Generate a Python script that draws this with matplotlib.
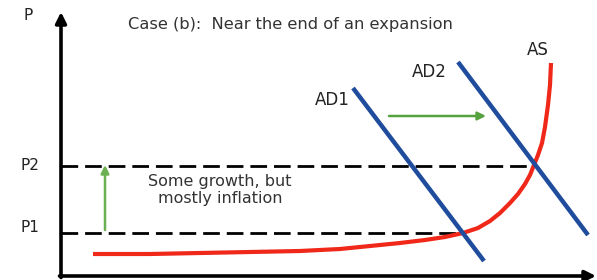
import matplotlib.pyplot as plt

# Diagram coordinates (pixel-like units, y grows downward)
origin = (61, 276)
y_axis_top = 12
x_axis_end = 596

p_labels = ['P1', 'P2']
p_levels = [233, 166]
p_line_ends = [463, 533]
p_label_y = [227, 165]

# AS curve points
as_x = [93, 150, 200, 250, 300, 340, 370, 400, 425, 445, 463, 478, 490, 500,
        510, 518, 525, 530, 534, 538, 542, 545, 548, 550, 551]
as_y = [254, 254, 253, 252, 251, 249, 246, 243, 240, 237, 233, 228, 221, 213,
        203, 194, 184, 175, 165, 155, 143, 127, 105, 85, 63]

# AD lines (start, end)
ad1_x = [353, 484]
ad1_y = [88, 261]
ad2_x = [458, 588]
ad2_y = [62, 235]

red = '#f0281a'
blue = '#1f4c9c'
green = '#55a23f'

plt.rcParams['font.family'] = ['DejaVu Sans']

fig = plt.figure(figsize=(5.97, 2.8), dpi=100)
ax = fig.add_axes([0, 0, 1, 1])
ax.set_xlim(0, 597)
ax.set_ylim(280, 0)
ax.axis('off')

# axes with arrows
ax.annotate('', xy=(origin[0], y_axis_top), xytext=(origin[0], origin[1] + 1.5),
            arrowprops=dict(arrowstyle='-|>', color='black', lw=2.6,
                            mutation_scale=16, shrinkA=0, shrinkB=0))
ax.annotate('', xy=(x_axis_end, origin[1]), xytext=(origin[0] - 1.5, origin[1]),
            arrowprops=dict(arrowstyle='-|>', color='black', lw=2.6,
                            mutation_scale=16, shrinkA=0, shrinkB=0))
ax.text(28, 16, 'P', fontsize=11, ha='center', va='center', color='#222222')

ax.text(128, 24, 'Case (b):  Near the end of an expansion', fontsize=11.7,
        ha='left', va='center', color='#333333')

# price levels
for lab, lvl, xe, ly in zip(p_labels, p_levels, p_line_ends, p_label_y):
    ax.plot([origin[0], xe], [lvl, lvl], color='black', lw=2,
            dashes=(6, 2.5), zorder=2)
    ax.text(30, ly, lab, fontsize=11, ha='center', va='center', color='#222222')

ax.text(220, 190, 'Some growth, but\nmostly inflation', fontsize=11.5,
        ha='center', va='center', linespacing=1.1, color='#333333')

# curves
ax.plot(as_x, as_y, color=red, lw=3, solid_joinstyle='round',
        solid_capstyle='butt', zorder=3)
ax.plot(ad1_x, ad1_y, color=blue, lw=3.2, solid_capstyle='butt', zorder=4)
ax.plot(ad2_x, ad2_y, color=blue, lw=3.2, solid_capstyle='butt', zorder=4)

ax.text(332, 100, 'AD1', fontsize=12, ha='center', va='center', color='#222222')
ax.text(429, 72, 'AD2', fontsize=12, ha='center', va='center', color='#222222')
ax.text(538, 50, 'AS', fontsize=12, ha='center', va='center', color='#222222')

# shift arrows
ax.annotate('', xy=(486, 116), xytext=(389, 116),
            arrowprops=dict(arrowstyle='-|>', color=green, lw=1.8,
                            mutation_scale=12, shrinkA=0, shrinkB=0))
ax.annotate('', xy=(105, 165), xytext=(105, 230),
            arrowprops=dict(arrowstyle='-|>', color='#6bb152', lw=1.8,
                            mutation_scale=12, shrinkA=0, shrinkB=0))

fig.savefig('out.png', dpi=100)
